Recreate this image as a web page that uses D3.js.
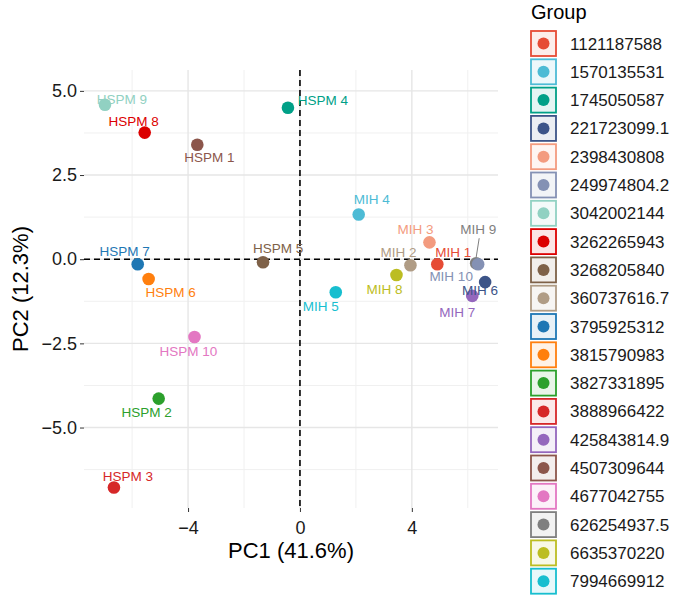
<!DOCTYPE html>
<html><head><meta charset="utf-8">
<script src="https://cdn.jsdelivr.net/npm/d3@7"></script>
<style>body{margin:0;background:#fff}text{font-family:Arial,"Liberation Sans",sans-serif}</style>
</head><body><svg id="c" width="685" height="599"></svg>
<script>
const samples = ["HSPM 9","HSPM 8","HSPM 1","HSPM 4","MIH 4","MIH 3","MIH 2","MIH 1","MIH 9","MIH 10","MIH 6","MIH 7","MIH 8","MIH 5","HSPM 5","HSPM 7","HSPM 6","HSPM 10","HSPM 2","HSPM 3"];
const pc1 = [-6.97,-5.55,-3.67,-0.43,2.10,4.63,3.95,4.91,6.30,6.37,6.62,6.16,3.45,1.28,-1.32,-5.80,-5.41,-3.77,-5.05,-6.65];
const pc2 = [4.59,3.76,3.40,4.50,1.33,0.50,-0.18,-0.15,-0.12,-0.15,-0.68,-1.09,-0.47,-0.98,-0.09,-0.15,-0.59,-2.31,-4.14,-6.78];
const sampleGroup = ["3042002144","3262265943","4507309644","1745050587","1570135531","2398430808","360737616.7","1121187588","626254937.5","249974804.2","221723099.1","425843814.9","6635370220","7994669912","3268205840","3795925312","3815790983","4677042755","3827331895","3888966422"];
const groups = ["1121187588","1570135531","1745050587","221723099.1","2398430808","249974804.2","3042002144","3262265943","3268205840","360737616.7","3795925312","3815790983","3827331895","3888966422","425843814.9","4507309644","4677042755","626254937.5","6635370220","7994669912"];
const palette = ["#E64B35","#4DBBD5","#00A087","#3C5488","#F39B7F","#8491B4","#91D1C2","#DC0000","#7E6148","#B09C85","#1F77B4","#FF7F0E","#2CA02C","#D62728","#9467BD","#8C564B","#E377C2","#7F7F7F","#BCBD22","#17BECF"];
const xTicks = [-4,0,4];
const yTicks = [5,2.5,0,-2.5,-5];
// label offsets (px) of label centre relative to point
const labelDx = [17,-11,12,35,13,-14,-12,16,2,-27,-5,-15,-12,-15,15,-13,22,-6,-12,14];
const labelDy = [-6,-12,12,-8,-15,-13,-13,-12,-34,12,8,16,14,14,-14,-13,13,14,13,-11];

const svg = d3.select("#c");
const L=84,R=498,T=70,B=508;
const x = d3.scaleLinear().domain([-7.72,7.08]).range([L,R]);
const y = d3.scaleLinear().domain([5.62,-7.39]).range([T,B]);
const color = d3.scaleOrdinal().domain(groups).range(palette);
const g = svg.append("g");
[-6,-2,2,6].forEach(v=>g.append("line").attr("x1",x(v)).attr("x2",x(v)).attr("y1",T).attr("y2",B).attr("stroke","#f0f0f0").attr("stroke-width",1));
[3.75,1.25,-1.25,-3.75,-6.25].forEach(v=>g.append("line").attr("y1",y(v)).attr("y2",y(v)).attr("x1",L).attr("x2",R).attr("stroke","#f0f0f0").attr("stroke-width",1));
xTicks.forEach(v=>g.append("line").attr("x1",x(v)).attr("x2",x(v)).attr("y1",T).attr("y2",B).attr("stroke","#e6e6e6").attr("stroke-width",1.4));
yTicks.forEach(v=>g.append("line").attr("y1",y(v)).attr("y2",y(v)).attr("x1",L).attr("x2",R).attr("stroke","#e6e6e6").attr("stroke-width",1.4));
const xa = svg.append("g").attr("transform",`translate(0,${B})`).call(d3.axisBottom(x).tickValues(xTicks).tickSize(4).tickFormat(d=>d<0?"\u2212"+(-d):d));
const ya = svg.append("g").attr("transform",`translate(${L},0)`).call(d3.axisLeft(y).tickValues(yTicks).tickSize(4).tickFormat(d=>(d<0?"\u2212":"")+Math.abs(d).toFixed(1)));
[xa,ya].forEach(a=>{a.select(".domain").remove();a.selectAll("text").attr("font-size",18).attr("fill","#1a1a1a");a.selectAll("line").attr("stroke","#333");});
xa.selectAll("text").attr("dy","1.05em");
g.append("line").attr("x1",x(0)).attr("x2",x(0)).attr("y1",T).attr("y2",B).attr("stroke","#000").attr("stroke-dasharray","6,4").attr("stroke-width",1.6);
g.append("line").attr("y1",y(0)).attr("y2",y(0)).attr("x1",L).attr("x2",R).attr("stroke","#000").attr("stroke-dasharray","6,4").attr("stroke-width",1.6);
const i9 = samples.indexOf("MIH 9");
g.append("line").attr("x1",x(pc1[i9])).attr("y1",y(pc2[i9])-6).attr("x2",x(pc1[i9])+3).attr("y2",y(pc2[i9])+labelDy[i9]+9).attr("stroke","#7F7F7F");
samples.forEach((s,i)=>{
  g.append("circle").attr("cx",x(pc1[i])).attr("cy",y(pc2[i])).attr("r",6.3).attr("fill",color(sampleGroup[i]));
});
samples.forEach((s,i)=>{
  g.append("text").attr("x",x(pc1[i])+labelDx[i]).attr("y",y(pc2[i])+labelDy[i]+5).attr("text-anchor","middle").attr("font-size",13.5).attr("fill",color(sampleGroup[i])).text(s);
});
svg.append("text").attr("x",(L+R)/2).attr("y",558).attr("text-anchor","middle").attr("font-size",22).attr("fill","#000").text("PC1 (41.6%)");
svg.append("text").attr("transform",`translate(28,${(T+B)/2}) rotate(-90)`).attr("text-anchor","middle").attr("font-size",22).attr("fill","#000").text("PC2 (12.3%)");
svg.append("text").attr("x",531).attr("y",19).attr("font-size",20).attr("fill","#000").text("Group");
groups.forEach((gr,i)=>{
  const yy = 31 + i*28.3;
  const c = color(gr);
  svg.append("rect").attr("x",531).attr("y",yy).attr("width",25).attr("height",25).attr("fill",d3.color(c).copy({opacity:0.1})).attr("stroke",c).attr("stroke-width",1.8);
  svg.append("circle").attr("cx",543.5).attr("cy",yy+12.5).attr("r",6).attr("fill",c);
  svg.append("text").attr("x",570).attr("y",yy+18.5).attr("font-size",17).attr("fill","#1a1a1a").text(gr);
});
</script></body></html>
